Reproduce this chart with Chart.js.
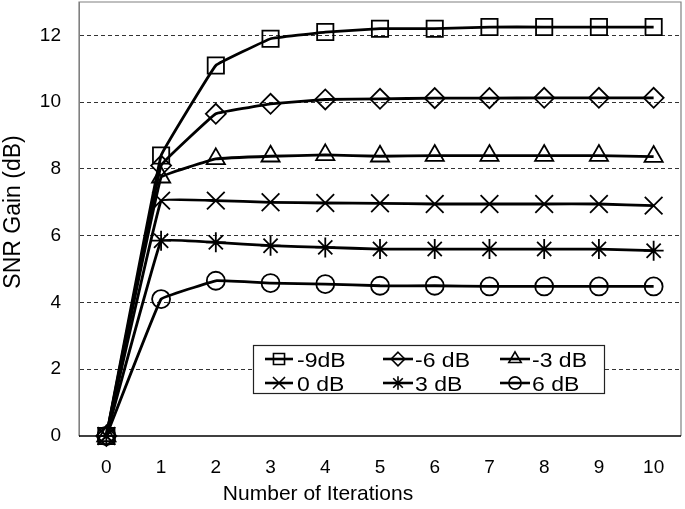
<!DOCTYPE html>
<html><head><meta charset="utf-8">
<script src="https://cdn.jsdelivr.net/npm/chart.js@4"></script>
<style>html,body{margin:0;padding:0;background:#fff;}#wrap{width:685px;height:509px;}</style>
</head><body><div id="wrap"><canvas id="c" width="685" height="509"></canvas></div>
<script>
const iterations = ['0','1','2','3','4','5','6','7','8','9','10'];
const seriesNames = ['-9dB','-6 dB','-3 dB','0 dB','3 dB','6 dB'];
const gainM9 = [0, 8.4, 11.1, 11.9, 12.1, 12.2, 12.2, 12.25, 12.25, 12.25, 12.25];
const gainM6 = [0, 8.1, 9.65, 9.95, 10.08, 10.1, 10.12, 10.12, 10.13, 10.13, 10.13];
const gainM3 = [0, 7.75, 8.3, 8.38, 8.42, 8.38, 8.4, 8.4, 8.4, 8.4, 8.37];
const gain0 = [0, 7.05, 7.05, 7.0, 6.98, 6.97, 6.95, 6.95, 6.95, 6.95, 6.9];
const gain3 = [0, 5.85, 5.8, 5.7, 5.65, 5.6, 5.6, 5.6, 5.6, 5.6, 5.55];
const gain6 = [0, 4.1, 4.65, 4.58, 4.55, 4.5, 4.5, 4.48, 4.48, 4.48, 4.48];
const yTicks = [0, 2, 4, 6, 8, 10, 12];
const xTitle = 'Number of Iterations';
const yTitle = 'SNR Gain (dB)';

const FONT = '"Liberation Sans", Arial, sans-serif';
const styles = [
  {pointStyle:'rect', pointRadius:11.5},
  {pointStyle:'rectRot', pointRadius:10},
  {pointStyle:'triangle', pointRadius:10.5},
  {pointStyle:'crossRot', pointRadius:12.5},
  {pointStyle:'star', pointRadius:10},
  {pointStyle:'circle', pointRadius:9}
];
const allSeries = [gainM9, gainM6, gainM3, gain0, gain3, gain6];

// keep the plot area where the reference has it (no automatic padding for big markers)
if (Chart.LineController) { Chart.LineController.prototype.getMaxOverflow = function () { return 0; }; }

const datasets = allSeries.map((d, i) => ({
  label: seriesNames[i],
  data: d,
  borderColor: '#000',
  borderWidth: 2.8,
  pointBorderColor: '#000',
  pointBackgroundColor: 'rgba(0,0,0,0)',
  pointBorderWidth: 1.8,
  pointStyle: styles[i].pointStyle,
  pointRadius: styles[i].pointRadius,
  tension: 0.05,
  clip: false
}));

function drawMarker(ctx, style, r, x, y) {
  ctx.beginPath();
  if (style === 'rect') { const s = Math.SQRT1_2 * r; ctx.rect(x - s, y - s, 2*s, 2*s); }
  else if (style === 'rectRot') { ctx.moveTo(x, y - r); ctx.lineTo(x + r, y); ctx.lineTo(x, y + r); ctx.lineTo(x - r, y); ctx.closePath(); }
  else if (style === 'triangle') { ctx.moveTo(x, y - r); ctx.lineTo(x + r*Math.cos(Math.PI/6), y + r*0.5); ctx.lineTo(x - r*Math.cos(Math.PI/6), y + r*0.5); ctx.closePath(); }
  else if (style === 'crossRot') { const o = Math.SQRT1_2 * r; ctx.moveTo(x-o,y-o); ctx.lineTo(x+o,y+o); ctx.moveTo(x-o,y+o); ctx.lineTo(x+o,y-o); }
  else if (style === 'star') { const o = Math.SQRT1_2 * r; ctx.moveTo(x-o,y-o); ctx.lineTo(x+o,y+o); ctx.moveTo(x-o,y+o); ctx.lineTo(x+o,y-o); ctx.moveTo(x,y-r); ctx.lineTo(x,y+r); ctx.moveTo(x-r,y); ctx.lineTo(x+r,y); }
  else if (style === 'circle') { ctx.arc(x, y, r, 0, Math.PI*2); }
  ctx.stroke();
}

const framePlugin = {
  id: 'frame',
  beforeDatasetsDraw(chart) {
    const {ctx, chartArea: a} = chart;
    ctx.save();
    ctx.strokeStyle = '#808080'; ctx.lineWidth = 1.2;
    ctx.beginPath();
    ctx.moveTo(a.left, a.bottom); ctx.lineTo(a.left, a.top); ctx.lineTo(a.right, a.top); ctx.lineTo(a.right, a.bottom);
    ctx.stroke();
    ctx.strokeStyle = '#000'; ctx.lineWidth = 1.5;
    ctx.beginPath(); ctx.moveTo(a.left, a.bottom); ctx.lineTo(a.right, a.bottom); ctx.stroke();
    ctx.restore();
  },
  afterDraw(chart) {
    const ctx = chart.ctx;
    ctx.save();
    ctx.fillStyle = '#000';
    ctx.textAlign = 'center'; ctx.textBaseline = 'middle';
    ctx.font = '21px ' + FONT;
    ctx.fillText(xTitle, 318, 494);
    ctx.save();
    ctx.font = '23px ' + FONT;
    ctx.translate(14, 212); ctx.rotate(-Math.PI/2);
    ctx.fillText(yTitle, 0, 0);
    ctx.restore();
    // legend box
    ctx.fillStyle = '#fff';
    ctx.fillRect(253, 345, 351, 48);
    ctx.strokeStyle = '#222'; ctx.lineWidth = 1.2;
    ctx.strokeRect(253.5, 345.5, 351, 48);
    const cols = [{x0:265, x1:293, tx:297}, {x0:383, x1:413, tx:415}, {x0:500, x1:530, tx:532}];
    const rows = [359, 383];
    chart.data.datasets.forEach((ds, i) => {
      const c = cols[i % 3], y = rows[Math.floor(i / 3)];
      ctx.strokeStyle = '#000'; ctx.lineWidth = 2.6;
      ctx.beginPath(); ctx.moveTo(c.x0, y); ctx.lineTo(c.x1, y); ctx.stroke();
      ctx.lineWidth = 1.6;
      drawMarker(ctx, ds.pointStyle, ds.pointRadius * 0.68, (c.x0 + c.x1) / 2, y);
      ctx.save();
      ctx.fillStyle = '#000';
      ctx.font = '20px ' + FONT;
      ctx.textAlign = 'left'; ctx.textBaseline = 'alphabetic';
      ctx.translate(c.tx, y + 8);
      ctx.scale(1.15, 1);
      ctx.fillText(ds.label, 0, 0);
      ctx.restore();
    });
    ctx.restore();
  }
};

new Chart(document.getElementById('c'), {
  type: 'line',
  data: { labels: iterations, datasets },
  options: {
    responsive: false,
    animation: false,
    layout: { padding: { top: 2, right: 4, left: 0, bottom: 0 } },
    plugins: { legend: { display: false }, tooltip: { enabled: false } },
    scales: {
      x: {
        type: 'category',
        offset: true,
        grid: { display: false, drawTicks: false },
        border: { display: false },
        ticks: { color: '#000', font: { family: FONT, size: 19 }, padding: 20, maxRotation: 0 },
        afterFit(s) { s.height = 73; s.paddingLeft = 0; s.paddingRight = 0; }
      },
      y: {
        min: 0, max: 13,
        afterBuildTicks(s) { s.ticks = yTicks.map(v => ({ value: v })); },
        grid: {
          drawTicks: false,
          color: c => (c.tick && c.tick.value === 0) ? 'rgba(0,0,0,0)' : '#333',
          lineWidth: 1
        },
        border: { display: true, color: '#808080', width: 1, dash: [4, 3] },
        ticks: { color: '#000', font: { family: FONT, size: 19 }, padding: 18 },
        afterFit(s) { s.width = 79; s.paddingTop = 0; s.paddingBottom = 0; }
      }
    }
  },
  plugins: [framePlugin]
});
</script></body></html>
